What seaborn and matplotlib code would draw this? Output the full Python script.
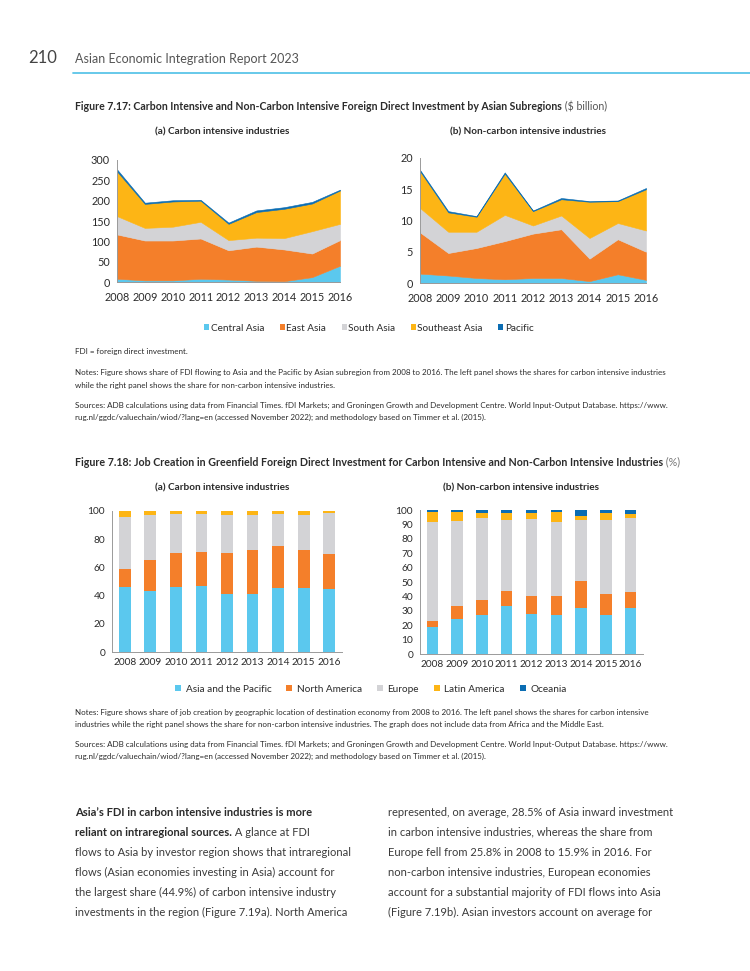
import numpy as np
import pandas as pd
import seaborn as sns
import matplotlib.pyplot as plt
from matplotlib.patches import Patch
from matplotlib.lines import Line2D

# ---- data -------------------------------------------------------------
years = [2008, 2009, 2010, 2011, 2012, 2013, 2014, 2015, 2016]
year_labels = [str(y) for y in years]

subregions = ["Central Asia", "East Asia", "South Asia", "Southeast Asia", "Pacific"]
# Figure 7.17 (a) carbon intensive, $ billion
ci_central = [8, 4, 4, 8, 6, 3, 2, 12, 40]
ci_east = [109, 98, 98, 99, 72, 84, 78, 58, 63]
ci_south = [45, 31, 34, 41, 25, 22, 28, 55, 40]
ci_southeast = [110, 59, 62, 52, 40, 63, 72, 68, 82]
ci_pacific = [5, 3, 3, 2, 3, 4, 4, 4, 2]
# Figure 7.17 (b) non-carbon intensive, $ billion
nci_central = [1.5, 1.2, 0.8, 0.6, 0.8, 0.8, 0.3, 1.4, 0.5]
nci_east = [6.6, 3.6, 4.8, 6.1, 7.1, 7.8, 3.6, 5.6, 4.5]
nci_south = [3.9, 3.4, 2.6, 4.2, 1.3, 2.2, 3.3, 2.6, 3.4]
nci_southeast = [5.9, 3.1, 2.4, 6.6, 2.3, 2.6, 5.8, 3.5, 6.6]
nci_pacific = [0.2, 0.2, 0.1, 0.2, 0.1, 0.2, 0.1, 0.1, 0.2]

investors = ["Asia and the Pacific", "North America", "Europe", "Latin America", "Oceania"]
# Figure 7.18 (a) carbon intensive, %
jc_asia = [46, 43.5, 46, 47, 41, 41, 45.5, 45.5, 44.5]
jc_namerica = [13, 22, 24, 24, 29, 31.5, 29.5, 27, 25]
jc_europe = [37, 31.5, 28, 27, 27.5, 25, 23, 25, 29]
jc_latam = [4, 3, 2, 2, 2.5, 2.5, 2, 2.5, 1.5]
jc_oceania = [0, 0, 0, 0, 0, 0, 0, 0, 0]
# Figure 7.18 (b) non-carbon intensive, %
jn_asia = [19, 24.5, 27, 33.5, 28, 27, 32, 27, 32]
jn_namerica = [4, 8.5, 10.5, 10, 12.5, 13, 19, 15, 11]
jn_europe = [69, 59.5, 57, 49.5, 53.5, 52, 42, 51, 51.5]
jn_latam = [6.5, 6, 3.5, 5, 4, 6.5, 3, 5, 3]
jn_oceania = [1.5, 1.5, 2, 2, 2, 1.5, 4, 2, 2.5]

colors = ["#5BC8EE", "#F47F2A", "#D3D3D6", "#FDB515", "#0B6DB3"]
TXT = "#2b2b2b"
GRID = "#9a9a9a"

# ---- setup ------------------------------------------------------------
sns.set_theme(style="white")
plt.rcParams["font.family"] = ["Lato", "DejaVu Sans"]
plt.rcParams["text.color"] = TXT

W, H = 750, 971
fig = plt.figure(figsize=(W / 100, H / 100), dpi=100)
fig.patch.set_facecolor("white")


def fx(x):
    return x / W


def fy(y):
    return 1 - y / H


def add_ax(left, top, right, bottom):
    return fig.add_axes([fx(left), fy(bottom), (right - left) / W, (bottom - top) / H])


def style_ax(ax, size):
    sns.despine(ax=ax)
    for s in ["left", "bottom"]:
        ax.spines[s].set_color(GRID)
        ax.spines[s].set_linewidth(0.7)
    ax.tick_params(axis="both", which="both", colors=GRID, labelcolor=TXT,
                   labelsize=size, length=3, width=0.6, pad=2)
    ax.set_xlabel("")
    ax.set_ylabel("")


def area_panel(ax, layers, ymax, yticks):
    polys = ax.stackplot(years, *layers, colors=colors, linewidth=0)
    for p, c in zip(polys, colors):
        p.set_edgecolor(c)
        p.set_linewidth(0.4)
    ax.set_xlim(2008, 2016)
    ax.set_ylim(0, ymax)
    ax.set_xticks(years)
    ax.set_xticklabels(year_labels)
    ax.set_yticks(yticks)
    style_ax(ax, 7.8)
    ax.tick_params(axis="x", pad=4)
    return polys


def bar_panel(ax, layers, yticks):
    cum = np.cumsum(np.array(layers), axis=0)
    for i in range(len(layers) - 1, -1, -1):
        df = pd.DataFrame({"year": year_labels, "value": cum[i]})
        sns.barplot(data=df, x="year", y="value", color=colors[i], saturation=1,
                    width=0.46, errorbar=None, ax=ax, linewidth=0)
    ax.set_xlim(-0.5, 8.5)
    ax.set_ylim(0, 100)
    ax.set_yticks(yticks)
    ax.set_xticks(np.arange(-0.5, 9, 1), minor=True)
    style_ax(ax, 7.3)
    ax.tick_params(axis="x", which="major", length=0, pad=4)


# ---- header -----------------------------------------------------------
fig.text(fx(28), fy(58), "210", fontsize=12, color="#444444", va="center")
fig.text(fx(75), fy(59), "Asian Economic Integration Report 2023", fontsize=9,
         color="#555555", va="center")
fig.add_artist(Line2D([fx(73), 1.0], [fy(73), fy(73)], color="#5BC5E8", lw=1.3))

renderer = fig.canvas.get_renderer()


def mixed(x, y, parts, size):
    """Put text pieces (string, weight, color) one after another on a line."""
    cx = fx(x)
    for s, weight, col in parts:
        t = fig.text(cx, fy(y), s, fontsize=size, fontweight=weight, color=col, va="center")
        bb = t.get_window_extent(renderer=renderer)
        cx = bb.x1 / W


# ---- figure 7.17 ------------------------------------------------------
mixed(75, 107, [("Figure 7.17: Carbon Intensive and Non-Carbon Intensive Foreign Direct "
                 "Investment by Asian Subregions", "bold", TXT),
                (" ($ billion)", "normal", "#555555")], 7.6)
fig.text(fx(222), fy(132), "(a) Carbon intensive industries", fontsize=7.2,
         fontweight="bold", ha="center", va="center")
fig.text(fx(528), fy(132), "(b) Non-carbon intensive industries", fontsize=7.2,
         fontweight="bold", ha="center", va="center")

ax1 = add_ax(117, 160, 340, 282)
area_panel(ax1, [ci_central, ci_east, ci_south, ci_southeast, ci_pacific], 300,
           [0, 50, 100, 150, 200, 250, 300])
ax2 = add_ax(420, 158, 646, 283)
area_panel(ax2, [nci_central, nci_east, nci_south, nci_southeast, nci_pacific], 20,
           [0, 5, 10, 15, 20])

h1 = [Patch(facecolor=c, edgecolor="none") for c in colors]
fig.legend(h1, subregions, loc="center", bbox_to_anchor=(fx(369), fy(328)), ncol=5,
           frameon=False, fontsize=7.2, handlelength=0.5, handleheight=0.5,
           handletextpad=0.15, columnspacing=1.55)

small = 5.8
fig.text(fx(75), fy(351), "FDI = foreign direct investment.", fontsize=small, va="center")
fig.text(fx(75), fy(373), "Notes: Figure shows share of FDI flowing to Asia and the Pacific by "
         "Asian subregion from 2008 to 2016. The left panel shows the shares for carbon "
         "intensive industries", fontsize=small, va="center")
fig.text(fx(75), fy(385), "while the right panel shows the share for non-carbon intensive "
         "industries.", fontsize=small, va="center")
src1 = ("Sources: ADB calculations using data from Financial Times. fDI Markets; and Groningen "
        "Growth and Development Centre. World Input-Output Database. https://www.")
src2 = ("rug.nl/ggdc/valuechain/wiod/?lang=en (accessed November 2022); and methodology based "
        "on Timmer et al. (2015).")
fig.text(fx(75), fy(405), src1, fontsize=small, va="center")
fig.text(fx(75), fy(417), src2, fontsize=small, va="center")

# ---- figure 7.18 ------------------------------------------------------
mixed(75, 462, [("Figure 7.18: Job Creation in Greenfield Foreign Direct Investment for "
                 "Carbon Intensive and Non-Carbon Intensive Industries", "bold", TXT),
                (" (%)", "normal", "#777777")], 7.7)
fig.text(fx(222), fy(488), "(a) Carbon intensive industries", fontsize=7.2,
         fontweight="bold", ha="center", va="center")
fig.text(fx(521), fy(488), "(b) Non-carbon intensive industries", fontsize=7.2,
         fontweight="bold", ha="center", va="center")

ax3 = add_ax(112, 511, 342, 652)
bar_panel(ax3, [jc_asia, jc_namerica, jc_europe, jc_latam, jc_oceania],
          [0, 20, 40, 60, 80, 100])
ax4 = add_ax(420, 510, 643, 654)
bar_panel(ax4, [jn_asia, jn_namerica, jn_europe, jn_latam, jn_oceania],
          list(range(0, 101, 10)))

h2 = [Patch(facecolor=c, edgecolor="none") for c in colors]
fig.legend(h2, investors, loc="center", bbox_to_anchor=(fx(371), fy(689)), ncol=5,
           frameon=False, fontsize=7.2, handlelength=0.6, handleheight=0.6,
           handletextpad=0.45, columnspacing=1.5)

fig.text(fx(75), fy(712), "Notes: Figure shows share of job creation by geographic location of "
         "destination economy from 2008 to 2016. The left panel shows the shares for carbon "
         "intensive", fontsize=small, va="center")
fig.text(fx(75), fy(724), "industries while the right panel shows the share for non-carbon "
         "intensive industries. The graph does not include data from Africa and the Middle East.",
         fontsize=small, va="center")
fig.text(fx(75), fy(744), src1, fontsize=small, va="center")
fig.text(fx(75), fy(756), src2, fontsize=small, va="center")

# ---- body text --------------------------------------------------------
body = 8.0
left_lines = [
    "flows to Asia by investor region shows that intraregional",
    "flows (Asian economies investing in Asia) account for",
    "the largest share (44.9%) of carbon intensive industry",
    "investments in the region (Figure 7.19a). North America",
]
right_lines = [
    "represented, on average, 28.5% of Asia inward investment",
    "in carbon intensive industries, whereas the share from",
    "Europe fell from 25.8% in 2008 to 15.9% in 2016. For",
    "non-carbon intensive industries, European economies",
    "account for a substantial majority of FDI flows into Asia",
    "(Figure 7.19b). Asian investors account on average for",
]
mixed(75, 812, [("Asia\u2019s FDI in carbon intensive industries is more", "bold", TXT)], body)
mixed(75, 832, [("reliant on intraregional sources.", "bold", TXT),
                (" A glance at FDI", "normal", "#3a3a3a")], body)
for i, s in enumerate(left_lines):
    fig.text(fx(75), fy(852 + 20 * i), s, fontsize=body, color="#3a3a3a", va="center")
for i, s in enumerate(right_lines):
    fig.text(fx(388), fy(812 + 20 * i), s, fontsize=body, color="#3a3a3a", va="center")

fig.savefig("out.png", dpi=100, facecolor="white")
